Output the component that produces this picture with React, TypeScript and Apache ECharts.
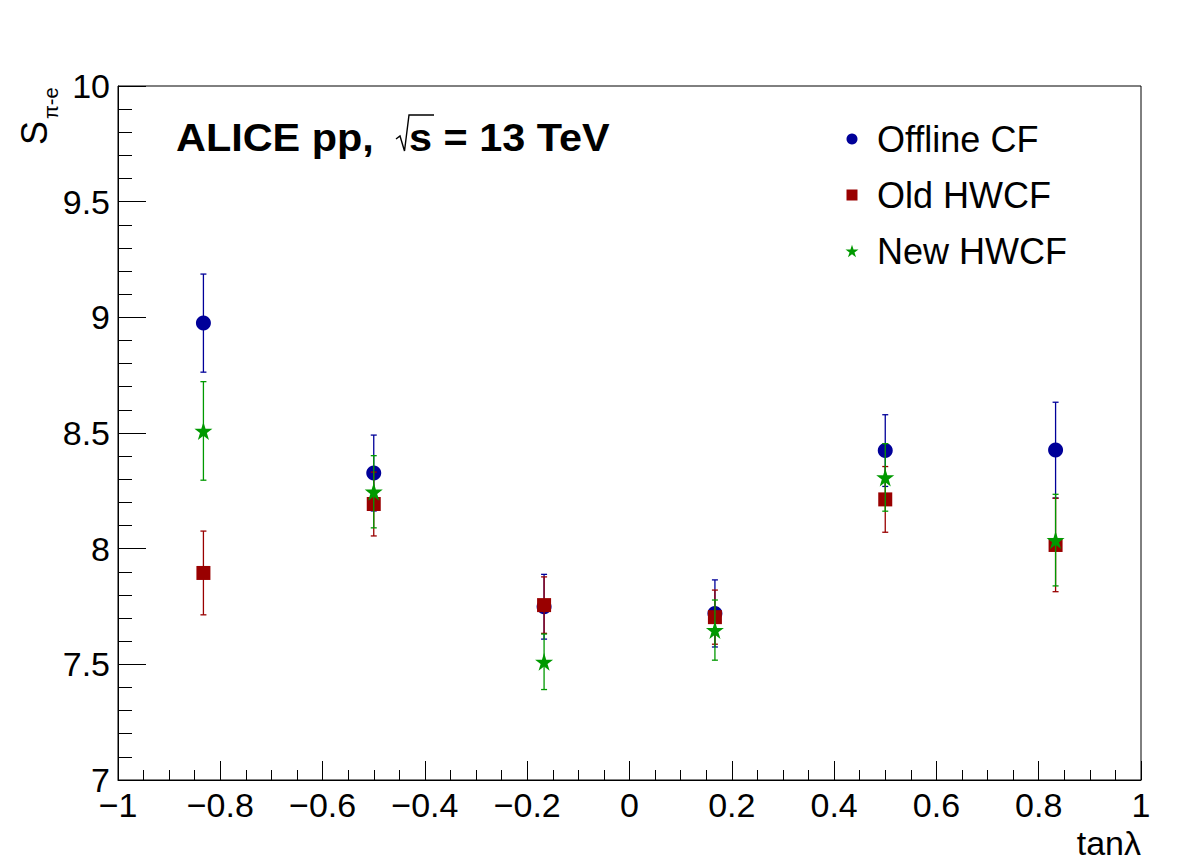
import React, { useEffect, useRef } from "react";
import * as echarts from "echarts";

// tan(lambda) bin centres
const tanLambda = [-0.833, -0.5, -0.167, 0.167, 0.5, 0.833];

// S_{pi-e} separation power per cluster finder, with symmetric uncertainties
const offlineCF = [8.975, 8.327, 7.749, 7.72, 8.424, 8.426];
const offlineCFErr = [0.212, 0.164, 0.14, 0.145, 0.155, 0.207];

const oldHWCF = [7.895, 8.193, 7.756, 7.704, 8.213, 8.016];
const oldHWCFErr = [0.181, 0.138, 0.122, 0.117, 0.142, 0.202];

const newHWCF = [8.509, 8.246, 7.511, 7.648, 8.308, 8.037];
const newHWCFErr = [0.213, 0.156, 0.12, 0.13, 0.146, 0.198];

const seriesNames = ["Offline CF", "Old HWCF", "New HWCF"];

const FONT = "'Liberation Sans', Arial, Helvetica, sans-serif";
const BLUE = "#000099";
const RED = "#990000";
const GREEN = "#009900";
const STAR =
  "path://M50,0 L61.2,34.5 L97.6,34.5 L68.2,55.9 L79.4,90.5 L50,69.1 L20.6,90.5 L31.8,55.9 L2.4,34.5 L38.8,34.5 Z";

function errorSeries(name: string, values: number[], errs: number[], color: string, z: number) {
  return {
    type: "custom",
    name,
    z,
    silent: true,
    encode: { x: 0, y: [1, 2] },
    data: tanLambda.map((x, i) => [x, values[i] - errs[i], values[i] + errs[i]]),
    renderItem: (_params: any, api: any) => {
      const x = api.value(0);
      const top = api.coord([x, api.value(2)]);
      const bot = api.coord([x, api.value(1)]);
      const style = { stroke: color, lineWidth: 1.3 };
      return {
        type: "group",
        children: [
          { type: "line", shape: { x1: top[0], y1: top[1], x2: bot[0], y2: bot[1] }, style },
          { type: "line", shape: { x1: top[0] - 3, y1: top[1], x2: top[0] + 3, y2: top[1] }, style },
          { type: "line", shape: { x1: bot[0] - 3, y1: bot[1], x2: bot[0] + 3, y2: bot[1] }, style },
        ],
      };
    },
  };
}

function markerSeries(name: string, values: number[], color: string, symbol: string, size: number, z: number) {
  return {
    type: "scatter",
    name,
    z,
    symbol,
    symbolSize: size,
    itemStyle: { color, opacity: 1 },
    emphasis: { disabled: true },
    data: tanLambda.map((x, i) => [x, values[i]]),
  };
}

function legendFor(name: string, icon: string, size: number, top: number) {
  return {
    data: [{ name, icon }],
    left: 852 - size / 2,
    top,
    padding: 0,
    itemWidth: size,
    itemHeight: size,
    selectedMode: false,
    textStyle: {
      fontFamily: FONT,
      fontSize: 36,
      color: "#000",
      padding: [0, 0, 0, 20 - size / 2],
    },
  };
}

export default function App() {
  const ref = useRef<HTMLDivElement>(null);

  useEffect(() => {
    if (!ref.current) return;
    const chart = echarts.init(ref.current, undefined, { renderer: "svg" });
    const minusFmt = (v: number) => Number(v.toFixed(2)).toString().replace("-", "\u2212");

    chart.setOption({
      animation: false,
      backgroundColor: "#fff",
      grid: {
        left: 118,
        right: 41,
        top: 86,
        bottom: 87,
        show: true,
        borderColor: "#000",
        borderWidth: 1,
      },
      legend: [
        legendFor(seriesNames[0], "circle", 11, 121),
        legendFor(seriesNames[1], "rect", 11, 177),
        legendFor(seriesNames[2], STAR, 13, 233),
      ],
      xAxis: {
        type: "value",
        min: -1,
        max: 1,
        interval: 0.2,
        axisLine: { show: true, onZero: false, lineStyle: { color: "#000", width: 1 } },
        axisTick: { show: true, inside: true, length: 19, lineStyle: { color: "#000", width: 1 } },
        minorTick: { show: true, splitNumber: 4, length: 10, lineStyle: { color: "#000", width: 1 } },
        splitLine: { show: false },
        axisLabel: {
          fontFamily: FONT,
          fontSize: 34,
          lineHeight: 24,
          color: "#000",
          margin: 12.5,
          formatter: minusFmt,
        },
      },
      yAxis: {
        type: "value",
        min: 7,
        max: 10,
        interval: 0.5,
        axisLine: { show: true, onZero: false, lineStyle: { color: "#000", width: 1 } },
        axisTick: { show: true, inside: true, length: 28, lineStyle: { color: "#000", width: 1 } },
        minorTick: { show: true, splitNumber: 5, length: 14, lineStyle: { color: "#000", width: 1 } },
        splitLine: { show: false },
        axisLabel: {
          fontFamily: FONT,
          fontSize: 34,
          lineHeight: 24,
          color: "#000",
          margin: 8,
          formatter: minusFmt,
        },
      },
      series: [
        errorSeries("Offline CF errors", offlineCF, offlineCFErr, BLUE, 2),
        markerSeries(seriesNames[0], offlineCF, BLUE, "circle", 15, 3),
        errorSeries("Old HWCF errors", oldHWCF, oldHWCFErr, RED, 4),
        markerSeries(seriesNames[1], oldHWCF, RED, "rect", 14, 5),
        errorSeries("New HWCF errors", newHWCF, newHWCFErr, GREEN, 6),
        markerSeries(seriesNames[2], newHWCF, GREEN, STAR, 18, 7),
      ],
      graphic: [
        // y-axis title S_{pi-e}, read bottom to top
        {
          type: "group",
          x: 34,
          y: 145,
          rotation: Math.PI / 2,
          children: [
            {
              type: "text",
              x: 0,
              y: 0,
              style: {
                text: "S",
                font: `36px ${FONT}`,
                fill: "#000",
                textAlign: "left",
                textVerticalAlign: "middle",
              },
            },
            {
              type: "text",
              x: 26,
              y: 17,
              style: {
                text: "\u03c0-e",
                font: `20px ${FONT}`,
                fill: "#000",
                textAlign: "left",
                textVerticalAlign: "middle",
              },
            },
          ],
        },
        // x-axis title
        {
          type: "text",
          right: 41,
          top: 826,
          style: {
            text: "tan\u03bb",
            font: `34px ${FONT}`,
            fill: "#000",
          },
        },
        // collision system label
        {
          type: "text",
          x: 176,
          y: 138,
          scaleX: 1.09,
          style: {
            text: "ALICE pp,",
            font: `bold 38px ${FONT}`,
            fill: "#000",
            textAlign: "left",
            textVerticalAlign: "middle",
          },
        },
        {
          type: "polyline",
          shape: {
            points: [
              [396, 139],
              [400, 136],
              [404.5, 151],
              [409, 115],
              [434, 115],
            ],
          },
          style: { stroke: "#000", lineWidth: 1.4, fill: "none" },
        },
        {
          type: "text",
          x: 409,
          y: 138,
          scaleX: 1.09,
          style: {
            text: "s = 13 TeV",
            font: `bold 38px ${FONT}`,
            fill: "#000",
            textAlign: "left",
            textVerticalAlign: "middle",
          },
        },
      ],
    });

    return () => chart.dispose();
  }, []);

  return (
    <div
      ref={ref}
      style={{ position: "fixed", left: 0, top: 0, width: 1182, height: 867, background: "#fff" }}
    />
  );
}
